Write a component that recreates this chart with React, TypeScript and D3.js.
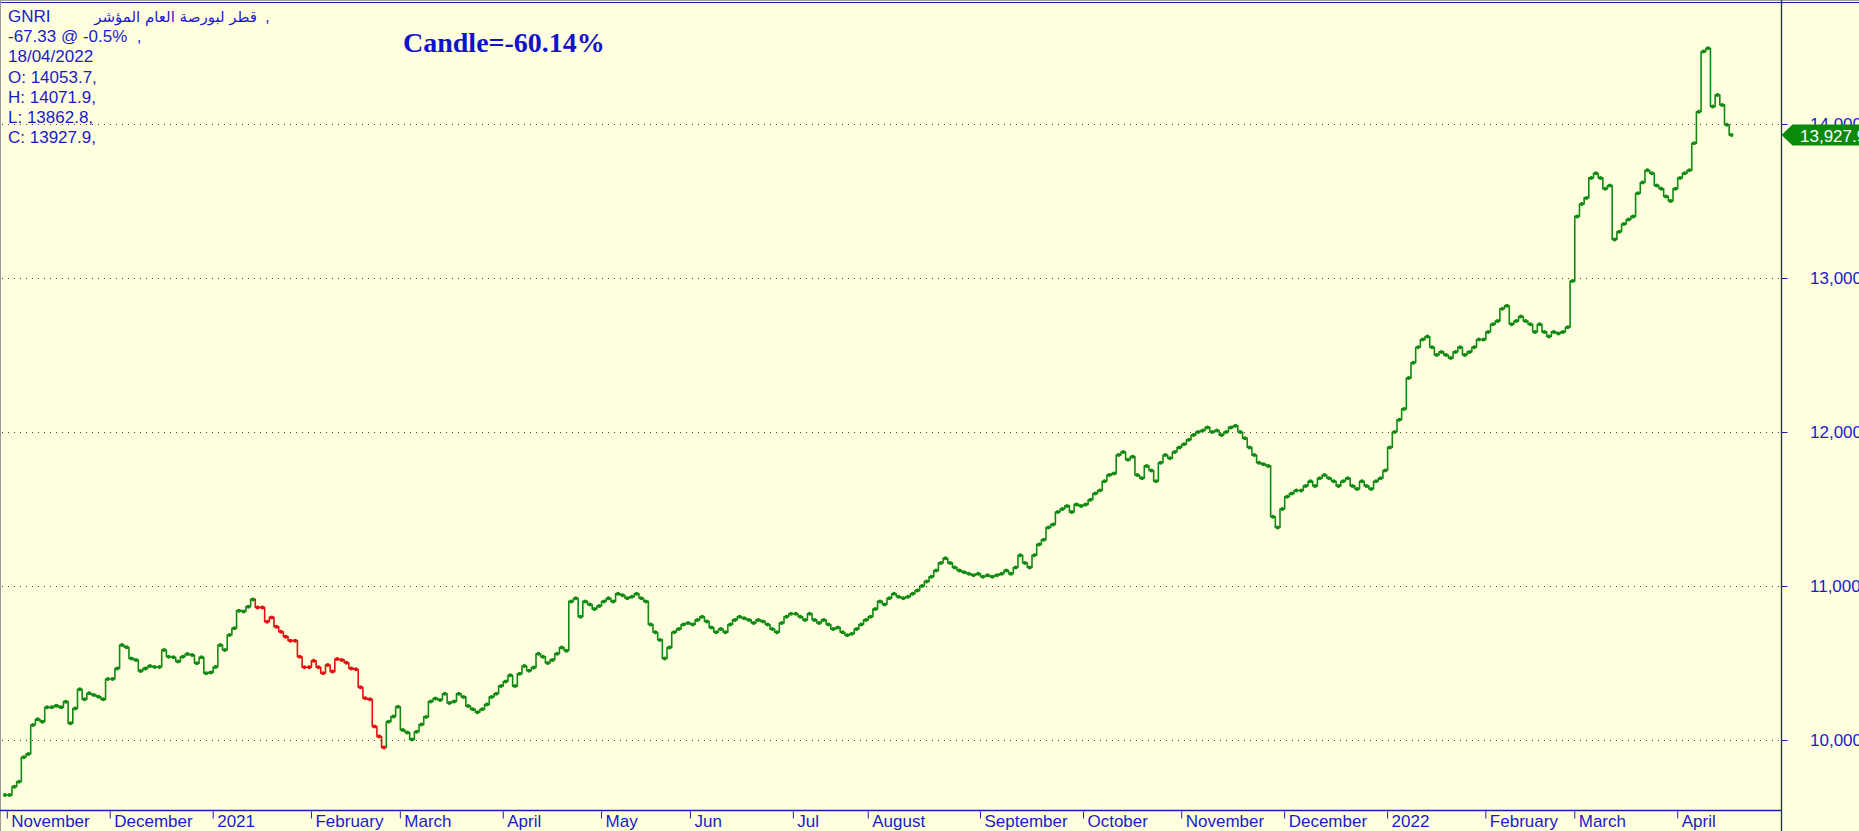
import React from 'react';
import * as d3 from 'd3';

const W = 1859;
const H = 831;

// Daily closes, grouped by month (trading days)
const oct2020 = [9643];
const nov2020 = [9643, 9697, 9729, 9888, 9909, 10097, 10134, 10119, 10212, 10212, 10223, 10212, 10249, 10108, 10205, 10329, 10264, 10303, 10292, 10281, 10264, 10396];
const dec2020 = [10396, 10465, 10617, 10602, 10530, 10520, 10448, 10465, 10480, 10474, 10474, 10584, 10541, 10537, 10509, 10541, 10558, 10552, 10498, 10537, 10433, 10439];
const jan2021 = [10474, 10617, 10584, 10682, 10725, 10840, 10834, 10866, 10913, 10861, 10861, 10768, 10796, 10736, 10703, 10671, 10645, 10645, 10541, 10472, 10472];
const feb2021 = [10515, 10472, 10433, 10487, 10444, 10526, 10520, 10502, 10465, 10459, 10342, 10271, 10264, 10087, 10022, 9952, 10119, 10152, 10216];
const mar2021 = [10065, 10048, 10004, 10054, 10100, 10150, 10250, 10270, 10260, 10300, 10240, 10250, 10300, 10280, 10220, 10200, 10180, 10200, 10230, 10280, 10300, 10350];
const apr2021 = [10380, 10420, 10350, 10430, 10480, 10450, 10470, 10560, 10540, 10500, 10520, 10560, 10600, 10580, 10900, 10920, 10800, 10900, 10880, 10850, 10870];
const may2021 = [10900, 10920, 10900, 10950, 10940, 10920, 10930, 10950, 10920, 10900, 10750, 10700, 10650, 10530, 10600, 10700, 10720, 10750, 10760];
const jun2021 = [10750, 10780, 10800, 10770, 10730, 10700, 10720, 10700, 10750, 10780, 10800, 10790, 10780, 10760, 10780, 10770, 10750, 10720, 10700, 10760, 10800, 10820];
const jul2021 = [10820, 10800, 10780, 10820, 10780, 10760, 10780, 10750, 10720, 10730, 10700, 10680, 10690, 10720, 10750, 10780];
const aug2021 = [10800, 10850, 10900, 10880, 10920, 10950, 10930, 10920, 10930, 10950, 10970, 11000, 11030, 11060, 11100, 11150, 11180, 11150, 11120, 11100, 11090, 11080, 11070, 11080];
const sep2021 = [11060, 11070, 11060, 11070, 11080, 11100, 11080, 11120, 11200, 11150, 11120, 11200, 11270, 11300, 11380, 11400, 11480, 11500, 11520, 11480, 11530, 11520];
const oct2021 = [11530, 11560, 11600, 11620, 11680, 11720, 11730, 11850, 11870, 11820, 11840, 11720, 11700, 11780, 11750, 11680, 11800, 11850, 11830, 11870, 11900];
const nov2021 = [11920, 11950, 11980, 12000, 12010, 12030, 12000, 12010, 11980, 12000, 12030, 12040, 12000, 11960, 11900, 11850, 11800, 11790, 11780, 11450, 11380, 11500];
const dec2021 = [11580, 11600, 11620, 11620, 11650, 11680, 11650, 11700, 11720, 11700, 11680, 11650, 11680, 11700, 11650, 11630, 11680, 11650, 11630, 11680, 11700, 11750];
const jan2022 = [11900, 12000, 12080, 12150, 12350, 12450, 12550, 12600, 12620, 12550, 12500, 12520, 12500, 12480, 12520, 12550, 12500, 12520, 12550, 12600, 12600];
const feb2022 = [12650, 12700, 12720, 12800, 12820, 12700, 12720, 12750, 12720, 12700, 12650, 12700, 12650, 12620, 12650, 12640, 12650, 12680, 12980];
const mar2022 = [13400, 13480, 13520, 13650, 13680, 13650, 13580, 13600, 13250, 13300, 13350, 13380, 13400, 13550, 13620, 13700, 13680, 13600, 13580, 13530, 13500, 13580];
const apr2022 = [13650, 13680, 13700, 13875, 14080, 14470, 14492, 14113, 14189, 14124, 13995.2, 13927.9];

const monthSeries = [oct2020, nov2020, dec2020, jan2021, feb2021, mar2021, apr2021, may2021, jun2021, jul2021, aug2021, sep2021, oct2021, nov2021, dec2021, jan2022, feb2022, mar2022, apr2022];
const monthLabels = ['', 'November', 'December', '2021', 'February', 'March', 'April', 'May', 'Jun', 'Jul', 'August', 'September', 'October', 'November', 'December', '2022', 'February', 'March', 'April'];

const yTicks = [10000, 11000, 12000, 13000, 14000];

// Falling stretch drawn in red (index range in the daily series)
const redStart = 53;
const redEnd = 81;

const legendLines = ['-67.33 @ -0.5%  ,', '18/04/2022', 'O: 14053.7,', 'H: 14071.9,', 'L: 13862.8,', 'C: 13927.9,'];
const arabicName = 'قطر لبورصة العام المؤشر';
const title = 'Candle=-60.14%';

const BG = '#ffffe0';
const BLUE = '#1a1acc';
const AXIS = '#1c1cb0';
const GREEN = '#118a11';
const RED = '#e41010';
const FONT = "Arial, 'Liberation Sans', sans-serif";

export default function App() {
  const values: number[] = monthSeries.flat();
  const n = values.length;
  const data = values.map((v, i) => ({ i, v }));

  const x = d3.scaleLinear().domain([0, n - 1]).range([4.96, 4.96 + 4.679 * (n - 1)]);
  const y = d3.scaleLinear().domain([10000, 14000]).range([740, 124]);

  const plotRight = 1781.5;
  const axisY = 810.5;

  const line = d3
    .line<{ i: number; v: number }>()
    .x((d) => x(d.i))
    .y((d) => y(d.v))
    .curve(d3.curveStep);

  const seg1 = data.slice(0, redStart + 1);
  const segRed = data.slice(redStart, redEnd + 1);
  const seg2 = data.slice(redEnd);

  // month boundaries
  const monthStarts: { idx: number; label: string }[] = [];
  let acc = 0;
  monthSeries.forEach((m, k) => {
    if (monthLabels[k]) monthStarts.push({ idx: acc, label: monthLabels[k] });
    acc += m.length;
  });

  const last = values[n - 1];
  const ly = y(last);
  const tagPath = `M${plotRight},${ly} L${plotRight + 11},${ly - 10.5} L${W},${ly - 10.5} L${W},${ly + 10.5} L${plotRight + 11},${ly + 10.5} Z`;

  return (
    <svg
      width={W}
      height={H}
      style={{ position: 'absolute', left: 0, top: 0, display: 'block' }}
      fontFamily={FONT}
    >
      <rect x={0} y={0} width={W} height={H} fill={BG} />
      {/* frame */}
      <line x1={0} x2={W} y1={0.5} y2={0.5} stroke="#a0a0a0" />
      <line x1={0} x2={W} y1={2.5} y2={2.5} stroke={AXIS} strokeWidth={1.2} />
      <line x1={0.5} x2={0.5} y1={0} y2={H} stroke="#9a9a9a" />

      {/* grid */}
      {yTicks.map((t) => (
        <line key={'g' + t} x1={2} x2={plotRight - 2} y1={Math.round(y(t)) + 0.5} y2={Math.round(y(t)) + 0.5} stroke="#444" strokeDasharray="1,5" />
      ))}

      {/* right axis */}
      <line x1={plotRight} x2={plotRight} y1={0} y2={H} stroke={AXIS} strokeWidth={1.3} />
      {yTicks.map((t) => (
        <g key={'t' + t}>
          <line x1={plotRight} x2={plotRight + 6} y1={Math.round(y(t)) + 0.5} y2={Math.round(y(t)) + 0.5} stroke={AXIS} />
          <text x={1810} y={y(t) + 6} fontSize={17} fill={BLUE}>
            {d3.format(',')(t)}
          </text>
        </g>
      ))}

      {/* bottom axis */}
      <line x1={0} x2={plotRight} y1={axisY} y2={axisY} stroke={AXIS} strokeWidth={1.3} />
      {monthStarts.map((m) => {
        const tx = x(m.idx - 0.5);
        return (
          <g key={'m' + m.idx}>
            <line x1={tx} x2={tx} y1={axisY + 1} y2={axisY + 8} stroke={AXIS} />
            <text x={tx + 4} y={826.5} fontSize={17} fill={BLUE}>
              {m.label}
            </text>
          </g>
        );
      })}

      {/* series */}
      <path d={line(seg1) || ''} fill="none" stroke={GREEN} strokeWidth={1.6} strokeLinejoin="round" />
      <path d={line(seg2) || ''} fill="none" stroke={GREEN} strokeWidth={1.6} strokeLinejoin="round" />
      <path d={line(segRed) || ''} fill="none" stroke={RED} strokeWidth={1.6} strokeLinejoin="round" />
      {data.map((d) => (
        <circle
          key={'c' + d.i}
          cx={x(d.i)}
          cy={y(d.v)}
          r={2}
          fill={d.i > redStart && d.i <= redEnd ? RED : GREEN}
        />
      ))}

      {/* last value tag */}
      <path d={tagPath} fill="#0a8a0a" />
      <text x={1800} y={ly + 6.5} fontSize={17} fill="#ffffff">
        {d3.format(',.1f')(last)}
      </text>

      {/* legend */}
      <text x={8} y={22} fontSize={17} fill={BLUE}>GNRI</text>
      <text x={257} y={22} fontSize={15} fill={BLUE} textAnchor="end" fontFamily="'DejaVu Sans', sans-serif">
        {arabicName}
      </text>
      <text x={265} y={22} fontSize={17} fill={BLUE}>,</text>
      {legendLines.map((s, k) => (
        <text key={'l' + k} x={8} y={42.2 + 20.2 * k} fontSize={17} fill={BLUE} style={{ whiteSpace: 'pre' }}>
          {s}
        </text>
      ))}

      {/* title */}
      <text x={403} y={52} fontSize={28} fontWeight="bold" fill="#1212c8" fontFamily="'Times New Roman', 'Liberation Serif', serif">
        {title}
      </text>
    </svg>
  );
}
